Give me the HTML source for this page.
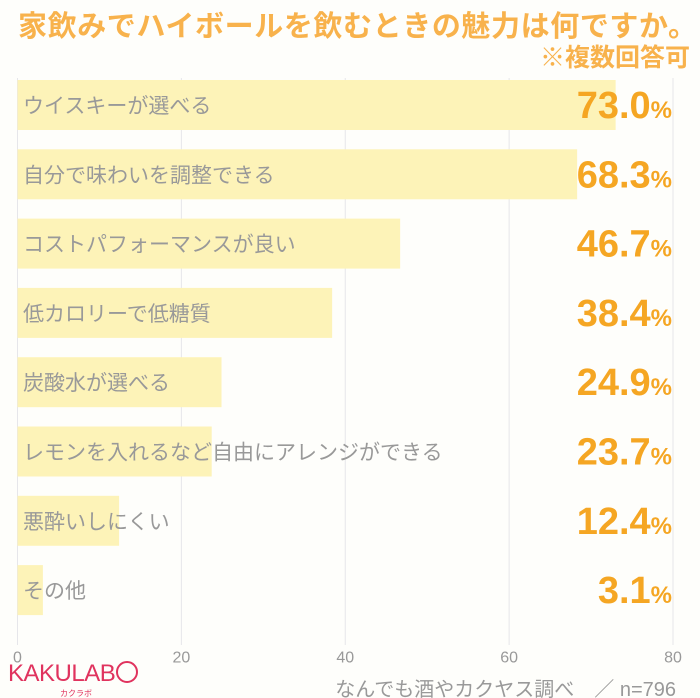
<!DOCTYPE html>
<html><head><meta charset="utf-8"><style>
body{margin:0;background:#fefefb;}
#c{position:relative;width:700px;height:698px;overflow:hidden;font-family:"Liberation Sans","Noto Sans CJK JP",sans-serif;}
.t{position:absolute;white-space:nowrap;}
</style></head><body>
<div id="c">
<div class="t" style="left:18px;top:3px;font-size:29px;font-weight:bold;color:#f8b24c;letter-spacing:0.6px;">家飲みでハイボールを飲むときの魅力は何ですか。</div>
<div class="t" style="right:10px;top:38px;font-size:25px;font-weight:bold;color:#f8b24c;">※複数回答可</div>
<svg id="s" width="700" height="698" style="position:absolute;left:0;top:0"></svg>
<div class="t" style="left:8px;top:660px;font-size:24px;color:#e0335e;letter-spacing:-0.5px;">KAKULAB<span style="display:inline-block;width:18px;height:18px;border:2px solid #e0335e;border-radius:50%;vertical-align:-2px;margin-left:1px"></span></div>
<div class="t" style="left:60px;top:688px;font-size:8px;color:#e0335e;">カクラボ</div>
<div class="t" style="right:24px;top:673px;font-size:20px;color:#999;">なんでも酒やカクヤス調べ　／ n=796</div>
</div>
<script>
const categories=["ウイスキーが選べる","自分で味わいを調整できる","コストパフォーマンスが良い","低カロリーで低糖質","炭酸水が選べる","レモンを入れるなど自由にアレンジができる","悪酔いしにくい","その他"];
const values=[73.0,68.3,46.7,38.4,24.9,23.7,12.4,3.1];
const ticks=[0,20,40,60,80];
const NS="http://www.w3.org/2000/svg";
const svg=document.getElementById('s');
const x0=17.5,x1=673,top0=80,step=69.3,bh=50;
const xs=v=>x0+(x1-x0)*v/80;
function el(t,a){const e=document.createElementNS(NS,t);for(const k in a)e.setAttribute(k,a[k]);svg.appendChild(e);return e;}
ticks.forEach(t=>{
 const g=el('line',{x1:xs(t),x2:xs(t),y1:78,y2:645,stroke:'#e6e6ea','stroke-width':1});
 
 
 const tx=el('text',{x:xs(t),y:652,'font-size':16,fill:'#999','text-anchor':'middle','dominant-baseline':'hanging','font-family':'Liberation Sans, sans-serif'});
 tx.textContent=t;
 
 
});
categories.forEach((c,i)=>{
 const y=top0+i*step;
 const r=el('rect',{x:x0,y:y,width:xs(values[i])-x0,height:bh,fill:'#fdf3b8'});
 
 
 const l=el('text',{x:23,y:y+bh/2+8,'font-size':21,fill:'#999','font-family':'Liberation Sans, Noto Sans CJK JP, sans-serif'});
 l.textContent=c;
 
 
 const v=el('text',{x:672,y:y+bh/2+13,'text-anchor':'end',fill:'#f5a623','font-weight':'bold','font-family':'Liberation Sans Narrow, Liberation Sans, sans-serif'});
 const a=document.createElementNS(NS,'tspan');a.setAttribute('font-size','38');a.textContent=values[i].toFixed(1);
 const b=document.createElementNS(NS,'tspan');b.setAttribute('font-size','24');b.textContent='%';
 v.appendChild(a);v.appendChild(b);
 
 
});
</script>
</body></html>
